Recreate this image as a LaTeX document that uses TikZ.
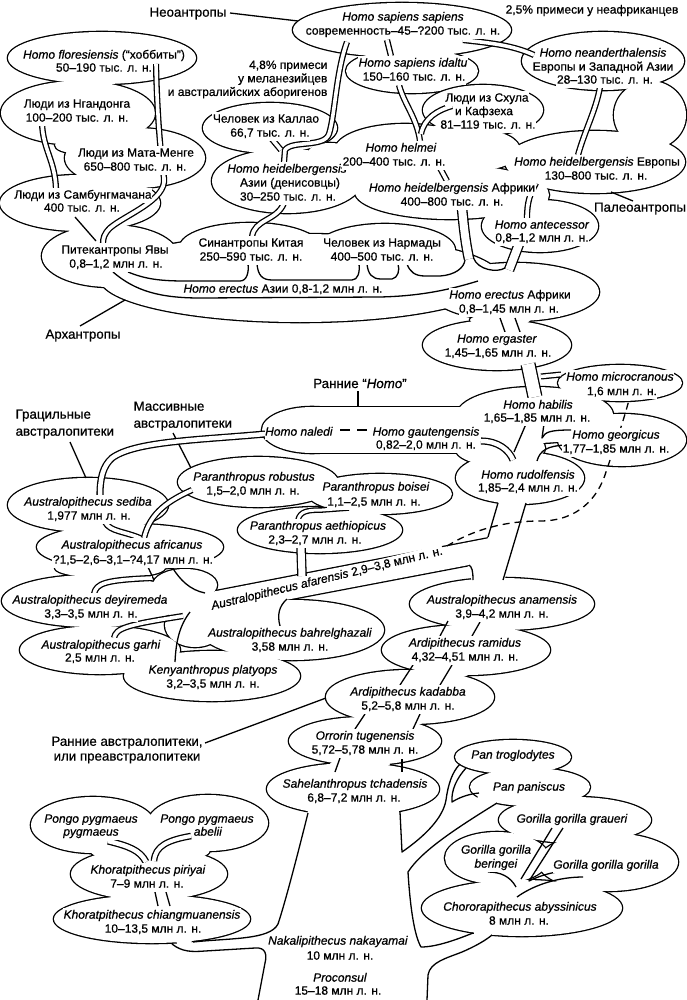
\documentclass[tikz,border=0pt]{standalone}
\usepackage{fontspec}
\setmainfont{Liberation Sans}[FakeBold=0.7]
\newcommand\ELL[4]{\path[cpass] (#1,#2) ellipse (#3pt and #4pt);}
\newcommand\drawcloud[1]{\tikzset{cpass/.style={draw,line width=2.6pt}}#1\tikzset{cpass/.style={fill=white}}#1}
\newcommand\TL[4]{\node[tx] (#1) at (#2,#3) {#4};}
\newcommand\cloudD{\ELL{402}{30}{109}{27}\ELL{412}{71}{66}{22}}
\newcommand\cloudAB{%
\ELL{102}{58}{94}{26}\ELL{78}{113}{77}{32}\ELL{135}{158}{70}{30}\ELL{80}{203}{80}{28}%
\ELL{75}{145}{20}{8}\ELL{110}{256}{68}{31}\ELL{250}{247}{70}{24}\ELL{385}{250}{70}{26}%
\ELL{300}{278}{200}{44}\ELL{515}{292}{84}{29}\ELL{497}{345}{74}{25}\ELL{500}{320}{30}{6}}
\newcommand\cloudC{%
\ELL{270}{128}{67}{25}\ELL{287}{181}{75}{32}\ELL{405}{150}{70}{26}\ELL{445}{131}{15}{7}%
\ELL{330}{153}{22}{10}\ELL{364}{174}{16}{12}%
\ELL{450}{192}{95}{27}\ELL{483}{110}{60}{25}\ELL{480}{150}{40}{20}\ELL{595}{162}{90}{31}%
\ELL{603}{61}{81}{29}\ELL{650}{115}{36}{34}\ELL{533}{195}{16}{13}\ELL{540}{226}{58}{26}}
\newcommand\cloudF{%
\ELL{620}{383}{62}{18}\ELL{535}{415}{78}{28}\ELL{622}{440}{64}{26}\ELL{520}{478}{64}{26}%
\ELL{500}{448}{45}{18}\ELL{312}{430}{50}{23}\path[cpass] (312,407) rectangle (478,453);}
\newcommand\cloudG{\ELL{258}{482}{80}{25}\ELL{380}{494}{72}{20}\ELL{320}{530}{82}{23}}
\newcommand\cloudH{%
\ELL{88}{505}{80}{27}\ELL{130}{547}{93}{23}\ELL{110}{568}{55}{10}\ELL{92}{601}{90}{26}%
\ELL{100}{650}{80}{24}\ELL{212}{676}{88}{25}\ELL{292}{630}{92}{30}\ELL{195}{625}{30}{22}%
\ELL{185}{585}{32}{16}\path[cpass] (170,600) -- (170,622) -- (490,561) -- (490,538) -- cycle;}
\newcommand\cloudI{%
\ELL{502}{604}{92}{26}\ELL{466}{650}{84}{25}\ELL{410}{697}{84}{27}\ELL{440}{673}{30}{6}%
\ELL{365}{741}{76}{24}\ELL{353}{789}{86}{26}\ELL{360}{764}{30}{5}}
\newcommand\cloudJ{%
\ELL{93}{825}{62}{28}\ELL{208}{823}{60}{28}\ELL{149}{874}{78}{26}\ELL{152}{919}{98}{24}\ELL{150}{850}{60}{14}\ELL{150}{833}{18}{12}}
\newcommand\cloudK{%
\ELL{513}{757}{58}{17}\ELL{530}{787}{60}{19}\ELL{575}{820}{76}{23}\ELL{497}{858}{52}{26}%
\ELL{608}{862}{70}{29}\ELL{522}{908}{100}{28}}
\begin{document}
\begin{tikzpicture}[x=1pt,y=-1pt,line width=1.3pt,line join=round,
 tx/.style={align=center,inner xsep=0.5pt,inner ysep=1.7pt,text height=8.7pt,text depth=2.4pt,fill=white,font=\fontsize{12}{13.8}\selectfont},
 grp/.style={align=center,inner sep=0pt,font=\fontsize{13.3}{16}\selectfont},
 note/.style={align=center,inner sep=0pt,font=\fontsize{12}{13.5}\selectfont},
 dbl/.style={double=white,double distance=3.6pt,line width=1.3pt},
 cpass/.style={}]
\fill[white] (0,0) rectangle (687,1000);
\useasboundingbox (0,0) rectangle (687,1000);
% clouds
\drawcloud\cloudD
\drawcloud\cloudC
\drawcloud\cloudAB
\drawcloud\cloudF
\drawcloud\cloudG
\drawcloud\cloudH
\drawcloud\cloudI
\drawcloud\cloudJ
\drawcloud\cloudK
% openings of the trunk
\fill[white] (488,537) -- (499,500) -- (527,500) -- (504,582) -- (472,582) -- (468,567) -- (486,545) -- cycle;
\fill[white] (310,801) -- (398,801) -- (401,835) -- (303,835) -- cycle;
\fill[white] (174,935) -- (193,933) -- (191,946) -- (178,946) -- cycle;
\fill[white] (474,926) -- (491,928) -- (491,941) -- (474,939) -- cycle;
\fill[white] (479,790) -- (497,797) -- (496,806) -- (477,800) -- cycle;
% label pointers
\draw (230,13) -- (298,21);
\draw (611,192) -- (633,201);
\draw (80,326) -- (125,300);
\draw (358,391) -- (358,407);
\draw (70,442) -- (86,478);
\draw (173,433) -- (191,468);
\draw (205,743) -- (326,698);
% upper branches
\draw[dbl] (156,64) .. controls (157,110) and (160,150) .. (164,178) .. controls (167,200) and (125,215) .. (110,228) .. controls (104,234) and (103,238) .. (103,244);
\draw[dbl] (42,123) .. controls (43,150) and (55,160) .. (56,189);
\draw (75,217) -- (96,241);
\draw[dbl] (347,42) .. controls (336,72) and (335,115) .. (329,134) .. controls (324,148) and (292,140) .. (285,150) -- (284,162);
\draw[dbl] (271,138) -- (281,150);
\draw[dbl] (387,40) -- (391,56);
\draw[dbl] (399,85) .. controls (404,104) and (417,118) .. (420,141);
\draw[dbl] (452,106) .. controls (438,110) and (424,118) .. (421,134);
\draw[dbl] (463,40) .. controls (490,43) and (512,45) .. (534,55);
\draw[dbl] (600,87) .. controls (596,110) and (585,130) .. (578,155);
\draw[dbl] (440,168) -- (447,181);
\draw[dbl] (536,183) .. controls (530,194) and (527,202) .. (527,218);
\draw[dbl] (284,203) .. controls (277,221) and (254,219) .. (252,237);
% archanthropes band
\draw (128,272) .. controls (145,279) and (160,281) .. (185,281) -- (240,281) .. controls (247,281) and (249,272) .. (248,264);
\draw (257,264) .. controls (258,275) and (262,280) .. (272,280) -- (352,280) .. controls (358,280) and (360,272) .. (359,264);
\draw (367,264) .. controls (368,274) and (372,279) .. (381,279) -- (392,279) .. controls (398,278) and (400,270) .. (398,264);
\draw (407,264) .. controls (410,272) and (415,276) .. (425,276) -- (440,276) .. controls (455,275) and (464,268) .. (465,260);
\draw (113,272) .. controls (135,291) and (160,298) .. (200,298) -- (380,297) .. controls (425,296) and (455,288) .. (478,281);
\draw[dbl,double distance=8pt] (462,208) .. controls (464,230) and (466,245) .. (469,259);
\draw[dbl,double distance=8pt] (519,244) -- (509,270);
\draw (473.5,258) .. controls (478,270) and (497,273) .. (505,268);
\draw (500,318) -- (505,332);
\draw (515,318) -- (520,332);
% early Homo
\draw[dbl,double distance=12.5pt] (528,364) -- (535,397);
\draw[dbl,double distance=3.5pt] (541,376.5) -- (561,374.5);
\draw (526,424) -- (514,452);
\draw (544,424) -- (542,438) .. controls (545,432) and (550,430) .. (571,430);
\draw (537,461) .. controls (540,450) and (548,446) .. (565,445);
\draw[dbl,double distance=4.5pt] (481,441) .. controls (498,441) and (509,450) .. (513,460);
\draw[dash pattern=on 10pt off 7pt] (340,430) -- (368,430);
\draw (498,503) -- (488,537);
\draw (526,503) -- (503,580);
\draw (469,565) .. controls (472,567) and (473,571) .. (473,580);
\draw[dash pattern=on 7pt off 5pt] (447,546) .. controls (465,535) and (495,521) .. (540,521) .. controls (578,521) and (598,498) .. (606,472) .. controls (614,448) and (624,420) .. (630,396);
% australopithecines
\draw[dbl,double distance=4.5pt] (265,434) .. controls (200,440) and (135,441) .. (112,458) .. controls (103,466) and (100,478) .. (100,495);
\draw[dbl] (105,522) .. controls (110,532) and (125,531) .. (142,539);
\draw[dbl] (192,490) .. controls (170,500) and (150,512) .. (144,538);
\draw (148,567) -- (154,580);
\draw (172,567) .. controls (180,580) and (190,590) .. (205,593);
\draw[dbl] (94,594) .. controls (96,583) and (106,580) .. (152,578);
\draw[dbl] (114,638) .. controls (116,628) and (126,625) .. (183,616);
\draw (175,662) .. controls (176,640) and (180,625) .. (190,612);
\draw (287,599) .. controls (279,606) and (277,615) .. (280,626);
\draw[dbl,double distance=3pt] (298,520) .. controls (300,511) and (308,510) .. (322,510) -- (349,508);
\draw[dbl,double distance=7pt] (301,546) -- (302,576);
% lower trunk inside clouds
\draw (448,621) -- (440,636);
\draw (480,622) -- (472,636);
\draw (413,665) -- (400,685);
\draw (452,665) -- (440,685);
\draw (365,714) -- (355,729);
\draw (420,714) -- (413,729);
\draw (340,758) -- (335,772);
\draw (402,759) -- (402,772);
% lowest part
\draw (172,944) .. controls (182,952) and (192,952) .. (205,951) -- (255,948) .. controls (266,947) and (267,955) .. (265,963) -- (258,1000);
\draw (308,813) .. controls (300,845) and (286,900) .. (278,924) .. controls (270,940) and (230,938) .. (193,942);
\draw (400,812) -- (402,852) .. controls (425,836) and (443,818) .. (446,800) .. controls (448,785) and (452,772) .. (460,764);
\draw (466,768) .. controls (457,778) and (451,790) .. (452,802) .. controls (460,797) and (469,794) .. (479,793);
\draw (497,803) .. controls (460,826) and (422,850) .. (408,872) .. controls (410,905) and (414,935) .. (421,947) .. controls (437,947) and (458,939) .. (473,933);
\draw (427,1000) -- (428,975) .. controls (430,962) and (447,958) .. (462,952) .. controls (476,946) and (486,940) .. (492,935);
\draw[dbl,double distance=4.5pt] (108,841) .. controls (128,846) and (140,850) .. (146,862);
\draw[dbl,double distance=4pt] (191,836) .. controls (168,840) and (155,846) .. (154,861);
\draw (155,892) -- (158,906);
\draw (166,892) -- (170,906);
\draw (488,872) .. controls (500,872) and (510,876) .. (516,887);
\draw (552,828) -- (521,879);
\draw (563,828) -- (529,881) .. controls (545,873) and (565,869) .. (587,870);
\draw (517,897) .. controls (535,884) and (560,877) .. (583,877);
% texts
\TL{hssa}{403}{17.5}{\textit{Homo sapiens sapiens}}
\TL{hssb}{403}{31.5}{современность–45–?200 тыс. л. н.}
\TL{idaa}{413}{63.5}{\textit{Homo sapiens idaltu}}
\TL{idab}{414}{77.5}{150–160 тыс. л. н.}
\TL{flora}{104}{55.5}{\textit{Homo floresiensis} (“хоббиты”)}
\TL{florb}{104}{68.5}{50–190 тыс. л. н.}
\TL{ngana}{77}{104.5}{Люди из Нгандонга}
\TL{nganb}{77}{118.5}{100–200 тыс. л. н.}
\TL{mma}{136}{153.5}{Люди из Мата-Менге}
\TL{mmb}{135}{167.5}{650–800 тыс. л. н.}
\TL{samba}{83}{195.5}{Люди из Самбунгмачана}
\TL{sambb}{82}{208.5}{400 тыс. л. н.}
\TL{kala}{266}{119.5}{Человек из Каллао}
\TL{kalb}{270}{133.5}{66,7 тыс. л. н.}
\TL{asiaa}{287}{169.5}{\textit{Homo heidelbergensis}}
\TL{asiab}{290}{183.5}{Азии (денисовцы)}
\TL{asiac}{288}{197.5}{30–250 тыс. л. н.}
\TL{neana}{603}{53.5}{\textit{Homo neanderthalensis}}
\TL{neanb}{603}{67.5}{Европы и Западной Азии}
\TL{neanc}{605}{80.5}{28–130 тыс. л. н.}
\TL{shula}{487}{98.5}{Люди из Схула}
\TL{shulb}{484}{112}{и Кафзеха}
\TL{shulc}{488}{125.5}{81–119 тыс. л. н.}
\TL{helma}{401}{148.5}{\textit{Homo helmei}}
\TL{helmb}{394}{162.5}{200–400 тыс. л. н.}
\TL{hafra}{452}{188.5}{\textit{Homo heidelbergensis} Африки}
\TL{hafrb}{452}{202.5}{400–800 тыс. л. н.}
\TL{heura}{597}{162.5}{\textit{Homo heidelbergensis} Европы}
\TL{heurb}{596}{176.5}{130–800 тыс. л. н.}
\TL{anta}{542}{225.5}{\textit{Homo antecessor}}
\TL{antb}{542}{238.5}{0,8–1,2 млн л. н.}
\TL{pitha}{115}{250.5}{Питекантропы Явы}
\TL{pithb}{116}{264.5}{0,8–1,2 млн л. н.}
\TL{sina}{251}{243.5}{Синантропы Китая}
\TL{sinb}{251}{257.5}{250–590 тыс. л. н.}
\TL{narma}{382}{243.5}{Человек из Нармады}
\TL{narmb}{382}{257.5}{400–500 тыс. л. н.}
\node[tx,inner ysep=1.2pt] (hasia) at (283,289.5) {\textit{Homo erectus} Азии 0,8-1,2 млн л. н.};
\TL{heaa}{510}{295.5}{\textit{Homo erectus} Африки}
\TL{heab}{509}{309.5}{0,8–1,45 млн л. н.}
\TL{erga}{497}{339.5}{\textit{Homo ergaster}}
\TL{ergb}{498}{353.5}{1,45–1,65 млн л. н.}
\TL{mica}{620}{377.5}{\textit{Homo microcranous}}
\TL{micb}{622}{392}{1,6 млн л. н.}
\TL{haba}{538}{405.5}{\textit{Homo habilis}}
\TL{habb}{537}{418.5}{1,65–1,85 млн л. н.}
\TL{naled}{299}{432.5}{\textit{Homo naledi}}
\TL{gauta}{426}{432.5}{\textit{Homo gautengensis}}
\TL{gautb}{426}{445.5}{0,82–2,0 млн л. н.}
\TL{geora}{616}{435.5}{\textit{Homo georgicus}}
\TL{georb}{616}{449.5}{1,77–1,85 млн л. н.}
\TL{ruda}{528}{475.5}{\textit{Homo rudolfensis}}
\TL{rudb}{528}{488.5}{1,85–2,4 млн л. н.}
\TL{seda}{88}{502.5}{\textit{Australopithecus sediba}}
\TL{sedb}{89}{516.5}{1,977 млн л. н.}
\TL{afra}{132}{545.5}{\textit{Australopithecus africanus}}
\TL{afrb}{133}{560.5}{?1,5–2,6–3,1–?4,17 млн л. н.}
\TL{roba}{254}{477.5}{\textit{Paranthropus robustus}}
\TL{robb}{253}{491.5}{1,5–2,0 млн л. н.}
\TL{boia}{376}{487.5}{\textit{Paranthropus boisei}}
\TL{boib}{374}{502.5}{1,1–2,5 млн л. н.}
\TL{aetha}{318}{526.5}{\textit{Paranthropus aethiopicus}}
\TL{aethb}{315}{540.5}{2,3–2,7 млн л. н.}
\node[tx,rotate=13.5,inner ysep=1.2pt] (afar) at (327,579) {\textit{Australopithecus afarensis} 2,9–3,8 млн л. н.};
\TL{deya}{90}{600.5}{\textit{Australopithecus deyiremeda}}
\TL{deyb}{91}{614.5}{3,3–3,5 млн л. н.}
\TL{gara}{101}{645.5}{\textit{Australopithecus garhi}}
\TL{garb}{100}{658.5}{2,5 млн л. н.}
\TL{kena}{213}{670.5}{\textit{Kenyanthropus platyops}}
\TL{kenb}{213}{684.5}{3,2–3,5 млн л. н.}
\TL{bahra}{290}{633.5}{\textit{Australopithecus bahrelghazali}}
\TL{bahrb}{290}{647.5}{3,58 млн л. н.}
\TL{anama}{502}{600.5}{\textit{Australopithecus anamensis}}
\TL{anamb}{502}{614.5}{3,9–4,2 млн л. н.}
\TL{rama}{465}{643.5}{\textit{Ardipithecus ramidus}}
\TL{ramb}{465}{657.5}{4,32–4,51 млн л. н.}
\TL{kada}{408}{692.5}{\textit{Ardipithecus kadabba}}
\TL{kadb}{408}{706.5}{5,2–5,8 млн л. н.}
\TL{orra}{365}{736.5}{\textit{Orrorin tugenensis}}
\TL{orrb}{365}{750.5}{5,72–5,78 млн л. н.}
\TL{saha}{355}{784.5}{\textit{Sahelanthropus tchadensis}}
\TL{sahb}{354}{798.5}{6,8–7,2 млн л. н.}
\TL{pyla}{91}{819.5}{\textit{Pongo pygmaeus}}
\TL{pylb}{91}{832.5}{\textit{pygmaeus}}
\TL{pyra}{207}{819.5}{\textit{Pongo pygmaeus}}
\TL{pyrb}{208}{832.5}{\textit{abelii}}
\TL{pira}{148}{870.5}{\textit{Khoratpithecus piriyai}}
\TL{pirb}{147}{884.5}{7–9 млн л. н.}
\TL{chia}{152}{915.5}{\textit{Khoratpithecus chiangmuanensis}}
\TL{chib}{153}{929.5}{10–13,5 млн л. н.}
\TL{trog}{513}{755.5}{\textit{Pan troglodytes}}
\TL{panis}{529}{787.5}{\textit{Pan paniscus}}
\TL{grau}{572}{819.5}{\textit{Gorilla gorilla graueri}}
\TL{bera}{496}{850.5}{\textit{Gorilla gorilla}}
\TL{berb}{496}{864.5}{\textit{beringei}}
\TL{gorg}{606}{865.5}{\textit{Gorilla gorilla gorilla}}
\TL{chora}{520}{907.5}{\textit{Chororapithecus abyssinicus}}
\TL{chorb}{519}{921.5}{8 млн л. н.}
\TL{naka}{338}{941.5}{\textit{Nakalipithecus nakayamai}}
\TL{nakb}{340}{956.5}{10 млн л. н.}
\TL{proa}{340}{978.5}{\textit{Proconsul}}
\TL{prob}{338}{991.5}{15–18 млн л. н.}
% group labels
\node[grp] (neo) at (188,13.5) {Неоантропы};
\node[note] (pct25) at (592,10.5) {2,5\% примеси у неафриканцев};
\node[note,align=right,anchor=east] (pct48) at (328,79.5) {4,8\% примеси\\у меланезийцев\\и австралийских аборигенов};
\node[grp] (paleo) at (640,208.5) {Палеоантропы};
\node[grp] (archan) at (83,335.5) {Архантропы};
\node[grp] (rannH) at (360,383.5) {Ранние “\textit{Homo}”};
\node[grp,align=left,anchor=west,font=\fontsize{13.3}{17}\selectfont] (gracil) at (15,424) {Грацильные\\австралопитеки};
\node[grp,align=left,anchor=west,font=\fontsize{13.3}{17}\selectfont] (massiv) at (133,416) {Массивные\\австралопитеки};
\node[grp,font=\fontsize{13.3}{14.8}\selectfont] (rannA) at (127,750) {Ранние австралопитеки,\\или преавстралопитеки};
\end{tikzpicture}
\end{document}
